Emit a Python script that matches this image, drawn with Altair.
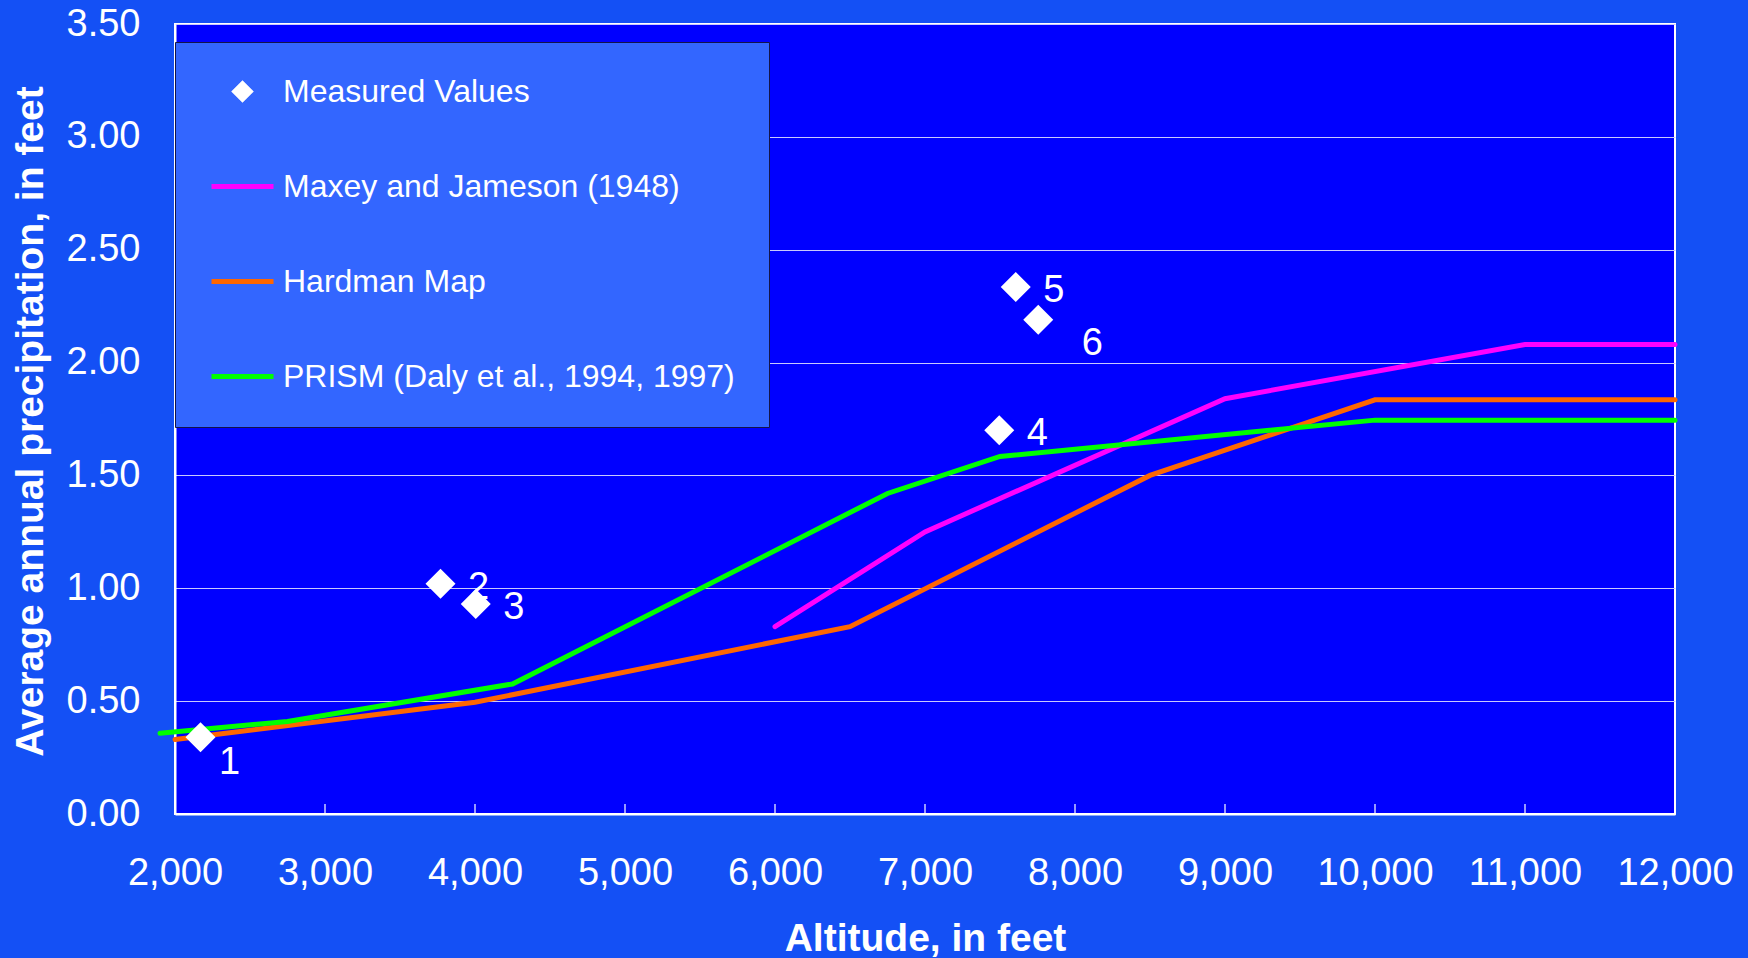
import altair as alt
import pandas as pd

FONT = "Liberation Sans, Arial, Helvetica, sans-serif"

# Measured sites (altitude in feet, average annual precipitation in feet)
measured_alt = [2170, 3770, 4005, 7495, 7605, 7755]
measured_precip = [0.34, 1.02, 0.93, 1.70, 2.335, 2.19]
measured_ids = ["1", "2", "3", "4", "5", "6"]

# Altitude-precipitation relations
maxey_alt = [6000, 7000, 9000, 11000, 12000]
maxey_precip = [0.83, 1.25, 1.84, 2.08, 2.08]

hardman_alt = [2000, 4000, 6500, 8500, 10000, 12000]
hardman_precip = [0.33, 0.495, 0.83, 1.50, 1.835, 1.835]

prism_alt = [1900, 2750, 4250, 6750, 7500, 10000, 12000]
prism_precip = [0.358, 0.41, 0.576, 1.42, 1.584, 1.745, 1.745]

series_names = [
    "Measured Values",
    "Maxey and Jameson (1948)",
    "Hardman Map",
    "PRISM (Daly et al., 1994, 1997)",
]
series_colors = ["#FFFFFF", "#FF00FF", "#FF6600", "#00FF00"]

x_ticks = [2000, 3000, 4000, 5000, 6000, 7000, 8000, 9000, 10000, 11000, 12000]
y_ticks = [0.0, 0.5, 1.0, 1.5, 2.0, 2.5, 3.0, 3.5]

# ---- tables built from the lists above ----
rows = []
for name, xs, ys in [
    (series_names[1], maxey_alt, maxey_precip),
    (series_names[2], hardman_alt, hardman_precip),
    (series_names[3], prism_alt, prism_precip),
]:
    for i, (a, p) in enumerate(zip(xs, ys)):
        rows.append({"series": name, "altitude": a, "precip": p, "order": i})
lines_df = pd.DataFrame(rows)

points_df = pd.DataFrame(
    {"altitude": measured_alt, "precip": measured_precip, "id": measured_ids,
     "series": series_names[0]}
)
ticks_df = pd.DataFrame({"altitude": x_ticks[1:-1]})

W, H = 1500, 790

x_axis = alt.Axis(
    values=x_ticks, format=",d", labelFont=FONT, labelFontSize=38,
    labelColor="white", labelPadding=40, labelFlush=False, labelOverlap=False,
    ticks=False, grid=False, domain=True, domainColor="white", domainWidth=2,
    title="Altitude, in feet", titleFont=FONT, titleFontSize=39,
    titleFontWeight="bold", titleColor="white", titleX=W / 2, titleY=136,
    titleAlign="center", titleBaseline="alphabetic",
)
y_axis = alt.Axis(
    values=y_ticks, format=".2f", labelFont=FONT, labelFontSize=38,
    labelColor="white", labelPadding=35, labelFlush=False, labelOverlap=False,
    ticks=False, grid=True, gridColor="#C8C8FF", gridWidth=1,
    domain=True, domainColor="white", domainWidth=2,
    title="Average annual precipitation, in feet", titleFont=FONT,
    titleFontSize=39, titleFontWeight="bold", titleColor="white",
    titleAngle=270, titleX=-133, titleY=397, titleAlign="center",
    titleBaseline="alphabetic",
)

X = alt.X("altitude:Q", scale=alt.Scale(domain=[2000, 12000], nice=False, zero=False), axis=x_axis)
Y = alt.Y("precip:Q", scale=alt.Scale(domain=[0, 3.5], nice=False, zero=True), axis=y_axis)

legend = alt.Legend(
    orient="none", legendX=0, legendY=18, title=None,
    fillColor="#3366FF", strokeColor="#14144A", padding=34,
    clipHeight=31, rowPadding=62, labelOffset=7, labelFont=FONT,
    labelFontSize=32, labelColor="white", labelLimit=1000,
    symbolSize=3844, symbolStrokeWidth=5, symbolFillColor="white",
    symbolOpacity=1,
    symbolType=alt.ExprRef(
        expr="datum.value === 'Measured Values' ? 'M-0.25,0L0,-0.25L0.25,0L0,0.25Z' : 'stroke'"
    ),
)

lines = alt.Chart(lines_df).mark_line(strokeWidth=5, strokeCap="round", strokeJoin="miter").encode(
    x=X, y=Y,
    color=alt.Color("series:N", scale=alt.Scale(domain=series_names, range=series_colors), legend=legend),
    order="order:Q",
)

points = alt.Chart(points_df).mark_point(shape="diamond", filled=True, size=900, opacity=1).encode(
    x=X, y=Y, color=alt.value("white")
)

def point_labels(ids, dx, dy):
    return alt.Chart(points_df).transform_filter(
        alt.FieldOneOfPredicate(field="id", oneOf=ids)
    ).mark_text(
        align="center", baseline="middle", font=FONT, fontSize=38, color="white", dx=dx, dy=dy
    ).encode(x=X, y=Y, text="id:N")

tick_marks = alt.Chart(ticks_df).mark_rule(color="white", strokeWidth=1.2).encode(
    x=X, y=alt.value(H - 10), y2=alt.value(H)
)

chart = alt.layer(
    tick_marks,
    lines,
    points,
    point_labels(["2", "3", "4", "5"], 38, 4),
    point_labels(["1"], 29, 26),
    point_labels(["6"], 54, 24),
).properties(
    width=W, height=H,
    background="#1450F5",
    padding={"left": 175, "top": 24, "right": 73, "bottom": 144},
    autosize=alt.AutoSizeParams(type="none"),
).configure_view(
    fill="#0000FF", stroke="white", strokeWidth=2
)

chart.save("out.html", embed_options={"renderer": "svg", "actions": False})
